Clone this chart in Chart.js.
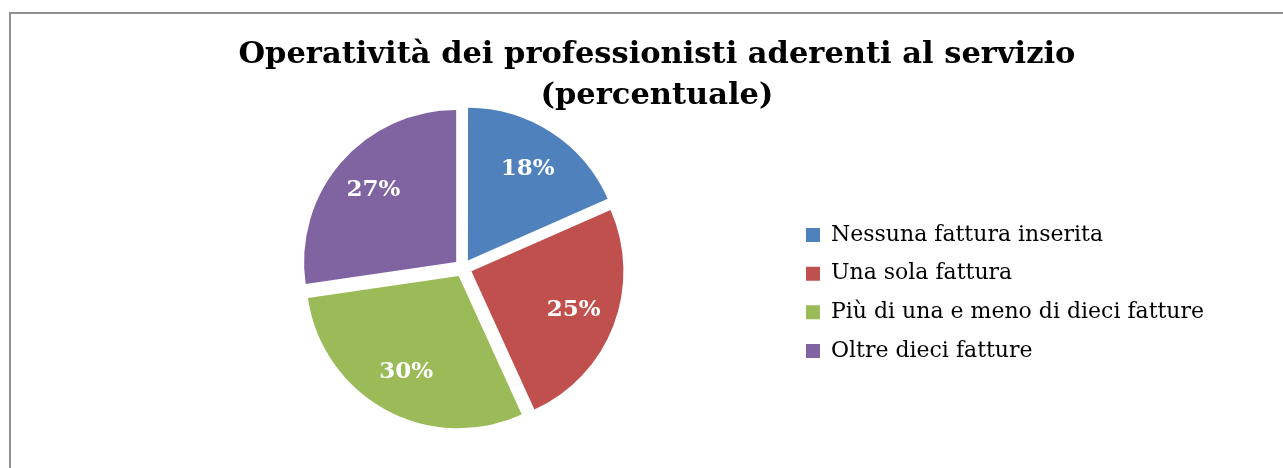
<!DOCTYPE html>
<html>
<head>
<meta charset="utf-8">
<script src="https://cdn.jsdelivr.net/npm/chart.js@4/dist/chart.umd.min.js"></script>
<style>
  html, body { margin: 0; padding: 0; background: #fff; overflow: hidden; }
  .box {
    position: absolute;
    left: 9px;
    top: 12px;
    width: 1280px;
    height: 460px;
    border: 2px solid #8f8f8f;
    background: #fff;
  }
  canvas { display: block; }
</style>
</head>
<body>
<div class="box">
  <canvas id="chart" width="1280" height="460"></canvas>
</div>
<script>
// dati
const titleLines = ['Operatività dei professionisti aderenti al servizio', '(percentuale)'];
const categories = [
  'Nessuna fattura inserita',
  'Una sola fattura',
  'Più di una e meno di dieci fatture',
  'Oltre dieci fatture'
];
const shares = [18.4, 24.8, 29.5, 27.3];
const sliceColors = ['#4f81bd', '#c0504d', '#9bbb59', '#8064a2'];

// etichette percentuali dentro le fette
const pieLabels = {
  id: 'pieLabels',
  afterDatasetsDraw(chart) {
    const ctx = chart.ctx;
    const meta = chart.getDatasetMeta(0);
    const total = shares.reduce((a, b) => a + b, 0);
    ctx.save();
    ctx.font = 'bold 23px "DejaVu Serif", serif';
    ctx.fillStyle = '#fff';
    ctx.textAlign = 'center';
    ctx.textBaseline = 'middle';
    meta.data.forEach(function(arc, i) {
      const p = arc.getProps(['x', 'y', 'startAngle', 'endAngle', 'outerRadius']);
      const mid = (p.startAngle + p.endAngle) / 2;
      const d = p.outerRadius * 0.72 + 9;
      const txt = Math.round(shares[i] / total * 100) + '%';
      ctx.fillText(txt, p.x + Math.cos(mid) * d, p.y + Math.sin(mid) * d);
    });
    ctx.restore();
  }
};

// la legenda resta stretta per il layout, ma non deve tagliare il testo
const legendRoom = {
  id: 'legendRoom',
  afterLayout(chart) {
    const lg = chart.legend;
    lg.right = chart.width;
    lg.width = lg.right - lg.left;
  }
};

new Chart(document.getElementById('chart'), {
  type: 'pie',
  data: {
    labels: categories,
    datasets: [{
      data: shares,
      backgroundColor: sliceColors,
      borderWidth: 0,
      offset: 36,
      hoverOffset: 0
    }]
  },
  options: {
    responsive: false,
    animation: false,
    events: [],
    layout: {
      padding: { left: 125.7, right: 113.7, top: 0, bottom: 36 }
    },
    plugins: {
      title: {
        display: true,
        text: titleLines,
        color: '#000',
        font: { family: '"DejaVu Serif", serif', size: 30.5, weight: 'bold', lineHeight: '41px' },
        padding: { top: 20.8, bottom: -18.8 }
      },
      legend: {
        position: 'right',
        fullSize: false,
        maxWidth: 388,
        title: {
          display: true,
          text: '',
          font: { size: 1, lineHeight: 1 },
          padding: { top: 49, bottom: 0 }
        },
        labels: {
          boxWidth: 14,
          boxHeight: 14,
          padding: 16.67,
          color: '#000',
          font: { family: '"DejaVu Serif", serif', size: 22 }
        }
      },
      tooltip: { enabled: false }
    }
  },
  plugins: [pieLabels, legendRoom]
});
</script>
</body>
</html>
